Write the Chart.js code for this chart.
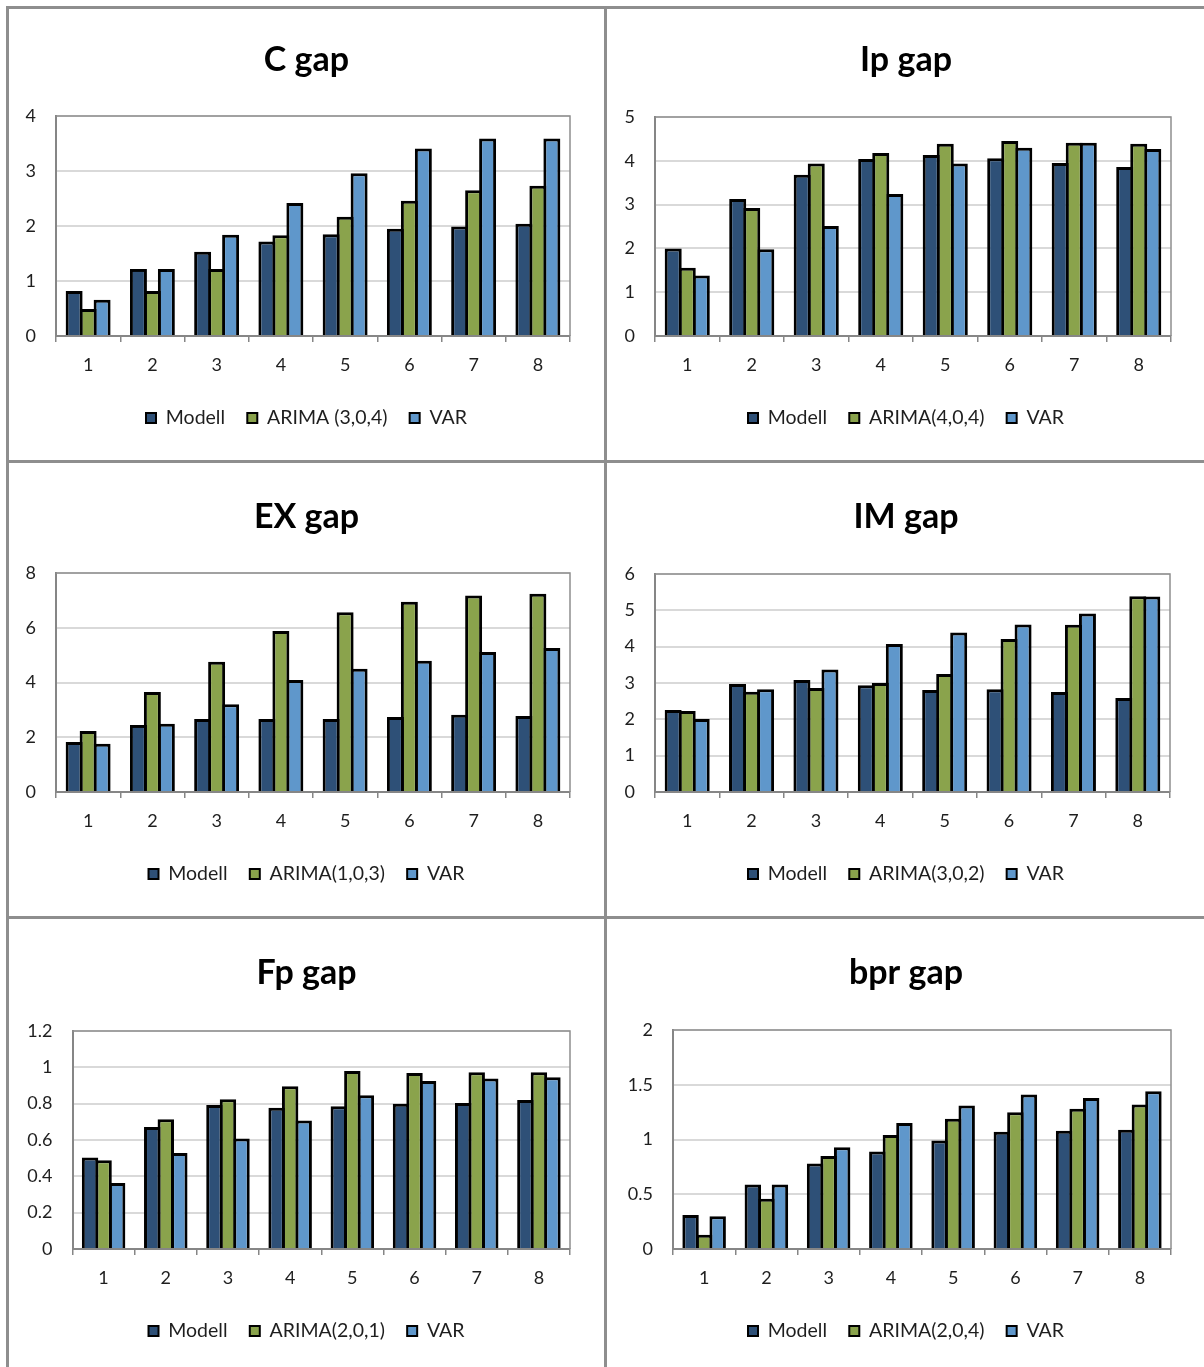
<!DOCTYPE html>
<html>
<head>
<meta charset="utf-8">
<script src="https://cdn.jsdelivr.net/npm/chart.js@4.4.1/dist/chart.umd.min.js"></script>
<style>
  html, body { margin: 0; padding: 0; background: #fff; }
  body { width: 1204px; height: 1367px; position: relative; overflow: hidden; }
  .rule { position: absolute; background: #8e8e8e; }
  canvas { position: absolute; display: block; }
</style>
</head>
<body>
<div class="rule" style="left:6px;top:6px;width:1198px;height:3px"></div>
<div class="rule" style="left:6px;top:460px;width:1198px;height:3px"></div>
<div class="rule" style="left:6px;top:916px;width:1198px;height:3px"></div>
<div class="rule" style="left:6px;top:6px;width:3px;height:1361px"></div>
<div class="rule" style="left:604px;top:6px;width:3px;height:1361px"></div>

<canvas id="cGap" width="595" height="451" style="left:9px;top:9px"></canvas>
<canvas id="ipGap" width="596" height="451" style="left:608px;top:9px"></canvas>
<canvas id="exGap" width="595" height="452" style="left:9px;top:464px"></canvas>
<canvas id="imGap" width="596" height="452" style="left:608px;top:464px"></canvas>
<canvas id="fpGap" width="595" height="447" style="left:9px;top:920px"></canvas>
<canvas id="bprGap" width="596" height="447" style="left:608px;top:920px"></canvas>

<script>
// Forecast horizons (quarters ahead)
const horizons = ['1', '2', '3', '4', '5', '6', '7', '8'];

// C gap
const cModell = [0.82, 1.22, 1.53, 1.72, 1.85, 1.95, 1.99, 2.04];
const cArima  = [0.49, 0.82, 1.22, 1.83, 2.17, 2.46, 2.65, 2.73];
const cVar    = [0.66, 1.22, 1.84, 2.42, 2.96, 3.41, 3.59, 3.59];

// Ip gap
const ipModell = [2.00, 3.13, 3.68, 4.04, 4.13, 4.06, 3.95, 3.86];
const ipArima  = [1.56, 2.92, 3.94, 4.18, 4.39, 4.45, 4.41, 4.39];
const ipVar    = [1.38, 1.98, 2.51, 3.24, 3.94, 4.30, 4.41, 4.27];

// EX gap
const exModell = [1.83, 2.45, 2.67, 2.67, 2.67, 2.74, 2.82, 2.78];
const exArima  = [2.23, 3.65, 4.76, 5.88, 6.57, 6.95, 7.18, 7.24];
const exVar    = [1.76, 2.49, 3.21, 4.09, 4.50, 4.79, 5.11, 5.26];

// IM gap
const imModell = [2.26, 2.97, 3.08, 2.94, 2.81, 2.83, 2.75, 2.59];
const imArima  = [2.23, 2.76, 2.86, 3.00, 3.25, 4.21, 4.60, 5.39];
const imVar    = [2.01, 2.83, 3.37, 4.07, 4.39, 4.61, 4.91, 5.38];

// Fp gap
const fpModell = [0.504, 0.672, 0.793, 0.777, 0.786, 0.799, 0.804, 0.820];
const fpArima  = [0.489, 0.714, 0.824, 0.896, 0.980, 0.969, 0.973, 0.973];
const fpVar    = [0.363, 0.529, 0.608, 0.707, 0.846, 0.925, 0.938, 0.945];

// bpr gap
const bprModell = [0.31, 0.59, 0.78, 0.89, 0.99, 1.07, 1.08, 1.09];
const bprArima  = [0.13, 0.46, 0.85, 1.04, 1.19, 1.25, 1.28, 1.32];
const bprVar    = [0.30, 0.59, 0.93, 1.15, 1.31, 1.41, 1.38, 1.44];

// Titles, legend names and value axes
const titles      = ['C gap', 'Ip gap', 'EX gap', 'IM gap', 'Fp gap', 'bpr gap'];
const modellNames = ['Modell', 'Modell', 'Modell', 'Modell', 'Modell', 'Modell'];
const arimaNames  = ['ARIMA (3,0,4)', 'ARIMA(4,0,4)', 'ARIMA(1,0,3)', 'ARIMA(3,0,2)', 'ARIMA(2,0,1)', 'ARIMA(2,0,4)'];
const varNames    = ['VAR', 'VAR', 'VAR', 'VAR', 'VAR', 'VAR'];
const axisMax     = [4, 5, 8, 6, 1.2, 2];
const axisStep    = [1, 1, 2, 1, 0.2, 0.5];

const seriesByPanel = [
  [cModell, cArima, cVar],
  [ipModell, ipArima, ipVar],
  [exModell, exArima, exVar],
  [imModell, imArima, imVar],
  [fpModell, fpArima, fpVar],
  [bprModell, bprArima, bprVar]
];

// Panel frames: canvas id, y-axis width, right margin, title centre, plot top/bottom, legend centre
const frames = [
  { id: 'cGap',   yW: 47,   rW: 34, titleMid: 51, top: 107, bottom: 327, legendMid: 409 },
  { id: 'ipGap',  yW: 47,   rW: 33, titleMid: 51, top: 108, bottom: 327, legendMid: 409 },
  { id: 'exGap',  yW: 47,   rW: 34, titleMid: 53, top: 109, bottom: 328, legendMid: 410 },
  { id: 'imGap',  yW: 47,   rW: 34, titleMid: 53, top: 110, bottom: 328, legendMid: 410 },
  { id: 'fpGap',  yW: 63.5, rW: 34, titleMid: 53, top: 111, bottom: 329, legendMid: 411 },
  { id: 'bprGap', yW: 65,   rW: 33, titleMid: 53, top: 110, bottom: 329, legendMid: 411 }
];

const COLORS = ['#2E5077', '#8AA34C', '#5F97CB'];
const FONT = 'Lato, "Open Sans", sans-serif';
const TEXT = '#1e1e1e';
const AXIS = '#868686';
const GRID = '#d9d9d9';

// Thin frame on the top and right of the plot area
const plotFrame = {
  id: 'plotFrame',
  beforeDatasetsDraw(chart) {
    const { ctx, chartArea: a } = chart;
    ctx.save();
    ctx.strokeStyle = '#8f8f8f';
    ctx.lineWidth = 1.5;
    ctx.beginPath();
    ctx.moveTo(a.left, a.top);
    ctx.lineTo(a.right, a.top);
    ctx.lineTo(a.right, a.bottom);
    ctx.stroke();
    ctx.restore();
  }
};

Chart.defaults.font.family = FONT;
Chart.defaults.color = TEXT;

frames.forEach((f, i) => {
  const canvas = document.getElementById(f.id);
  const H = canvas.height;

  const titleSize = 34;
  const titleLH = titleSize * 1.2;
  const titlePadTop = f.titleMid - titleLH / 2;
  const titlePadBottom = f.top - titlePadTop - titleLH;

  const xAxisH = 50;
  const legendSize = 19.5;
  const legendPad = f.legendMid - f.bottom - xAxisH - legendSize / 2;
  const legendH = legendSize + legendPad + 10;
  const padBottom = H - f.bottom - xAxisH - legendH;

  const names = [modellNames[i], arimaNames[i], varNames[i]];
  const datasets = seriesByPanel[i].map((vals, k) => ({
    label: names[k],
    data: vals,
    backgroundColor: COLORS[k],
    borderColor: '#000',
    borderWidth: 3,
    borderSkipped: 'start',
    barPercentage: 1.214,
    categoryPercentage: 0.653
  }));

  new Chart(canvas, {
    type: 'bar',
    data: { labels: horizons, datasets },
    plugins: [plotFrame],
    options: {
      responsive: false,
      animation: false,
      devicePixelRatio: 1,
      events: [],
      layout: { padding: { left: 0, right: 0, top: 0, bottom: padBottom } },
      plugins: {
        tooltip: { enabled: false },
        title: {
          display: true,
          text: titles[i],
          color: '#000',
          font: { size: titleSize, weight: 'bold', lineHeight: 1.2 },
          padding: { top: titlePadTop, bottom: titlePadBottom }
        },
        legend: {
          position: 'bottom',
          labels: {
            boxWidth: 10,
            boxHeight: 10,
            padding: legendPad,
            color: TEXT,
            font: { size: legendSize },
            generateLabels(chart) {
              return Chart.defaults.plugins.legend.labels.generateLabels(chart)
                .map(l => Object.assign(l, { lineWidth: 2, strokeStyle: '#000' }));
            }
          }
        }
      },
      scales: {
        x: {
          grid: {
            display: true,
            drawOnChartArea: false,
            drawTicks: true,
            tickLength: 6,
            color: AXIS,
            lineWidth: 1.5
          },
          border: { display: true, color: AXIS, width: 2 },
          ticks: { padding: 12, color: TEXT, font: { size: 18 }, maxRotation: 0 },
          afterFit(scale) { scale.height = xAxisH; }
        },
        y: {
          min: 0,
          max: axisMax[i],
          ticks: {
            stepSize: axisStep[i],
            padding: 20,
            color: TEXT,
            font: { size: 18 },
            callback: v => String(Math.round(v * 10) / 10)
          },
          grid: { color: GRID, lineWidth: 2, drawTicks: false },
          border: { display: true, color: AXIS, width: 2 },
          afterFit(scale) { scale.width = f.yW; }
        },
        pad: {
          type: 'linear',
          position: 'right',
          display: true,
          grid: { display: false, drawTicks: false },
          border: { display: false },
          ticks: { display: false },
          afterFit(scale) { scale.width = f.rW; }
        }
      }
    }
  });
});
</script>
</body>
</html>
